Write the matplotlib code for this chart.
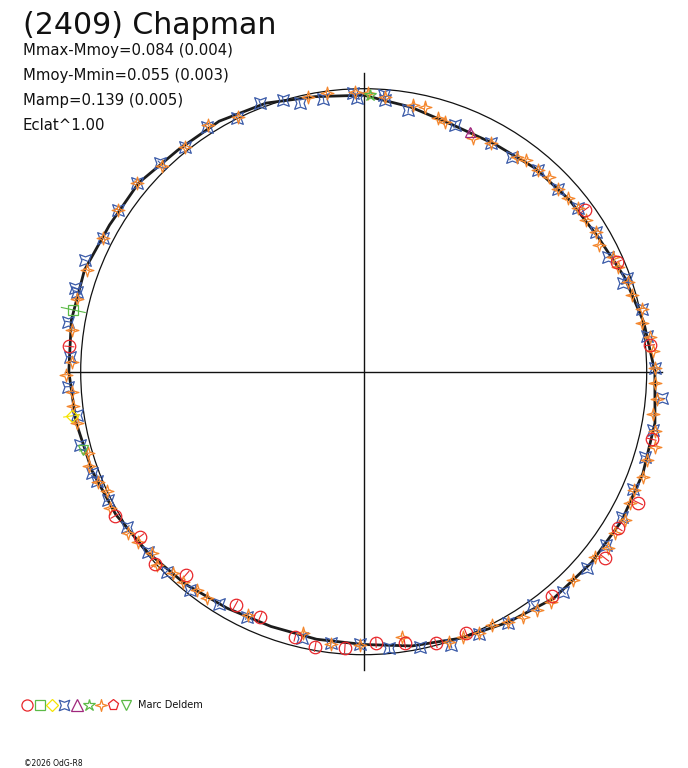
import numpy as np
import matplotlib
matplotlib.use("Agg")
import matplotlib.pyplot as plt
from matplotlib.path import Path
from matplotlib.patches import Circle
from matplotlib.collections import LineCollection

# ---------------- data ----------------
TITLE = "(2409) Chapman"
STATS = ["Mmax-Mmoy=0.084 (0.004)", "Mmoy-Mmin=0.055 (0.003)",
         "Mamp=0.139 (0.005)", "Eclat^1.00"]
OBSERVER = "Marc Deldem"
COPYRIGHT = "\u00a92026 OdG-R8"

# fitted curve: phase angle (deg) and relative radius
fit_theta = [0, 10, 20, 30, 40, 50, 60, 70, 80, 90, 100, 110, 120, 130, 140, 150,
             160, 170, 180, 190, 200, 210, 220, 230, 240, 250, 260, 270, 280, 290,
             300, 310, 320, 330, 340, 350]
fit_r = [1.029, 1.005, 0.980, 0.955, 0.947, 0.940, 0.928, 0.927, 0.950, 0.977,
         0.987, 1.010, 1.022, 1.022, 1.038, 1.037, 1.050, 1.049, 1.042, 1.032,
         1.022, 1.011, 0.995, 0.980, 0.965, 0.958, 0.960, 0.964, 0.984, 1.002,
         1.022, 1.045, 1.050, 1.053, 1.050, 1.045]

blue_theta = [163.9, 164.4, 170.4, 177.1, 182.9, 188.6, 194.5, 200.5, 202.2, 206.7,
              213.3, 219.9, 225.4, 231.5, 238.1, 244.5, 256.9, 263.1, 269.2, 275.3,
              281.5, 287.7, 293.8, 299.9, 306.0, 312.2, 318.6, 324.4, 330.7, 336.4,
              343.2, 348.6, 354.9, 0.7, 7.1, 12.8, 18.9, 19.6, 25.2, 31.1,
              37.3, 43.3, 49.1, 55.4, 61.0, 69.7, 80.3, 85.5, 85.9, 91.5,
              92.1, 98.4, 103.4, 106.5, 111.1, 116.6, 122.7, 128.5, 134.3, 140.2,
              146.6, 152.9, 158.2]
blue_r = [1.062, 1.053, 1.059, 1.039, 1.045, 1.026, 1.035, 1.026, 1.019, 1.010,
          1.002, 0.992, 0.992, 0.986, 0.966, 0.959, 0.967, 0.965, 0.962, 0.982,
          0.994, 1.013, 1.013, 1.024, 1.019, 1.050, 1.051, 1.053, 1.046, 1.039,
          1.038, 1.044, 1.057, 1.029, 1.008, 1.008, 0.970, 0.986, 0.955, 0.958,
          0.953, 0.941, 0.943, 0.920, 0.925, 0.929, 0.938, 0.963, 0.980, 0.966,
          0.984, 0.973, 0.975, 1.001, 1.017, 1.001, 1.028, 1.015, 1.030, 1.042,
          1.038, 1.034, 1.061]

orange_theta = [159.8, 165.8, 171.9, 178.0, 180.6, 183.9, 186.7, 190.2, 196.5, 199.0,
                202.5, 205.0, 208.3, 214.5, 217.0, 220.6, 223.0, 226.6, 229.3, 232.6,
                235.3, 244.6, 257.0, 263.1, 269.2, 278.2, 287.6, 290.6, 293.8, 296.8,
                299.9, 302.9, 306.0, 309.2, 315.1, 321.3, 324.2, 327.3, 330.4, 333.7,
                336.4, 339.4, 342.7, 345.6, 348.5, 351.6, 354.6, 357.7, 0.7, 4.0,
                6.9, 9.9, 12.8, 16.0, 18.8, 22.4, 24.7, 28.3, 31.1, 34.3,
                37.3, 40.4, 43.3, 46.5, 49.1, 52.5, 54.5, 61.0, 64.8, 72.0,
                73.6, 77.0, 79.5, 85.6, 89.1, 91.8, 97.6, 101.4, 116.2, 122.2,
                128.5, 134.4, 140.2, 146.6, 152.9]
orange_r = [1.043, 1.044, 1.042, 1.032, 1.052, 1.034, 1.033, 1.028, 1.015, 1.025,
            1.015, 0.999, 1.018, 1.009, 0.998, 0.986, 1.001, 0.980, 0.978, 0.971,
            0.974, 0.952, 0.949, 0.970, 0.966, 0.946, 1.001, 1.002, 1.010, 1.003,
            1.020, 1.034, 1.041, 1.048, 1.045, 1.047, 1.066, 1.056, 1.062, 1.050,
            1.042, 1.053, 1.048, 1.063, 1.050, 1.034, 1.040, 1.030, 1.029, 1.024,
            1.019, 0.997, 1.008, 0.985, 0.988, 0.973, 0.971, 0.945, 0.958, 0.951,
            0.953, 0.946, 0.941, 0.950, 0.943, 0.943, 0.931, 0.925, 0.911, 0.928,
            0.933, 0.961, 0.959, 0.975, 0.984, 0.990, 0.992, 0.989, 1.004, 1.030,
            1.015, 1.019, 1.042, 1.038, 1.034]

red_theta = [36.2, 23.4, 5.3, 346.8, 334.5, 328.4, 322.3, 310.0, 291.4, 284.9,
             278.6, 272.6, 266.1, 260.0, 255.5, 247.1, 241.2, 228.8, 222.7, 216.4,
             210.1, 175.1]
red_r = [0.969, 0.975, 1.016, 1.045, 1.075, 1.056, 1.078, 1.034, 0.993, 0.993,
         0.971, 0.959, 0.980, 0.987, 0.967, 0.940, 0.940, 0.954, 1.003, 0.982,
         1.016, 1.044]

green_sq_theta, green_sq_r = [168.0], [1.049]
yellow_theta, yellow_r = [188.6], [1.044]
green_tri_theta, green_tri_r = [195.6], [1.029]
green_star_theta, green_star_r = [88.7], [0.978]
purple_theta, purple_r = [66.1], [0.928]

# ---------------- figure / layout ----------------
W, H = 688, 768
fig = plt.figure(figsize=(W / 100, H / 100), dpi=100)
fig.patch.set_facecolor("white")
cx, cy, R = 363.7, 371.7, 283.0
ax = fig.add_axes([0, 0, 1, 1])
ax.set_xlim(-cx / R, (W - cx) / R)
ax.set_ylim(-(H - cy) / R, cy / R)
ax.axis("off")

FONT = "DejaVu Sans"

# star markers
blue_star = Path([(1, 1), (0, 0.62), (-1, 1), (-0.62, 0), (-1, -1), (0, -0.62),
                  (1, -1), (0.62, 0), (1, 1)],
                 [Path.MOVETO] + [Path.LINETO] * 7 + [Path.CLOSEPOLY])
orange_star = Path([(0, 1), (0.22, 0.22), (1, 0), (0.22, -0.22), (0, -1),
                    (-0.22, -0.22), (-1, 0), (-0.22, 0.22), (0, 1)],
                   [Path.MOVETO] + [Path.LINETO] * 7 + [Path.CLOSEPOLY])

C_BLUE = "#3b5ba9"
C_ORANGE = "#f4862c"
C_RED = "#e8262a"
C_GREEN = "#5cba47"
C_YELLOW = "#f5e400"
C_PURPLE = "#a0287d"

# axes cross and reference circle
L = 1.055
ax.plot([-L, L], [0, 0], color="#111111", lw=1.0, zorder=1)
ax.plot([0, 0], [-L, L], color="#111111", lw=1.0, zorder=1)
ax.add_patch(Circle((0, 0), 1.0, fill=False, ec="#111111", lw=0.9, zorder=1))


def xy(theta, r):
    t = np.deg2rad(np.asarray(theta, float))
    r = np.asarray(r, float)
    return r * np.cos(t), r * np.sin(t)


def errbars(theta, r, e, color, lw=0.8):
    t = np.deg2rad(np.asarray(theta, float))
    r = np.asarray(r, float)
    segs = [[((ri - e) * np.cos(ti), (ri - e) * np.sin(ti)),
             ((ri + e) * np.cos(ti), (ri + e) * np.sin(ti))] for ti, ri in zip(t, r)]
    ax.add_collection(LineCollection(segs, colors=color, linewidths=lw, zorder=3))


series = [
    (blue_theta, blue_r, blue_star, C_BLUE, 8.4, 0.012),
    (orange_theta, orange_r, orange_star, C_ORANGE, 9.2, 0.012),
    (red_theta, red_r, "o", C_RED, 9.0, 0.018),
    (green_sq_theta, green_sq_r, "s", C_GREEN, 7.0, 0.045),
    (yellow_theta, yellow_r, "D", C_YELLOW, 6.0, 0.03),
    (green_tri_theta, green_tri_r, "v", C_GREEN, 7.0, 0.015),
    (green_star_theta, green_star_r, "*", C_GREEN, 9.0, 0.015),
    (purple_theta, purple_r, "^", C_PURPLE, 7.0, 0.012),
]

# fitted curve
fx, fy = xy(fit_theta + [fit_theta[0]], fit_r + [fit_r[0]])
ax.plot(fx, fy, color="#1c1c1c", lw=2.0, zorder=2)

for th, rr, mk, col, ms, e in series:
    errbars(th, rr, e, col)
    x, y = xy(th, rr)
    ax.plot(x, y, linestyle="none", marker=mk, ms=ms, mfc="none", mec=col,
            mew=0.9, zorder=4)

# ---------------- annotations (pixel overlay) ----------------
ov = fig.add_axes([0, 0, 1, 1], facecolor="none")
ov.set_xlim(0, W)
ov.set_ylim(H, 0)
ov.axis("off")

ov.text(23, 34, TITLE, fontsize=21.6, family=FONT, color="#111111", va="baseline")
for i, s in enumerate(STATS):
    ov.text(23, 55 + 25 * i, s, fontsize=10.7, family=FONT, color="#111111",
            va="baseline")

legend_keys = [("o", C_RED, 8.0), ("s", C_GREEN, 6.5), ("D", C_YELLOW, 6.5),
               (blue_star, C_BLUE, 7.5), ("^", C_PURPLE, 8.0), ("*", C_GREEN, 9.0),
               (orange_star, C_ORANGE, 8.5), ("p", C_RED, 8.0), ("v", C_GREEN, 7.5)]
for i, (mk, col, ms) in enumerate(legend_keys):
    ov.plot(27.3 + 12.3 * i, 704.5, marker=mk, ms=ms, mfc="none", mec=col, mew=0.9,
            linestyle="none")
ov.text(138.5, 705, OBSERVER, fontsize=7.0, family=FONT, color="#111111",
        va="center")
ov.text(24, 763, COPYRIGHT, fontsize=5.5, family=FONT, color="#111111",
        va="center")

fig.savefig("out.png", dpi=100, facecolor="white")
